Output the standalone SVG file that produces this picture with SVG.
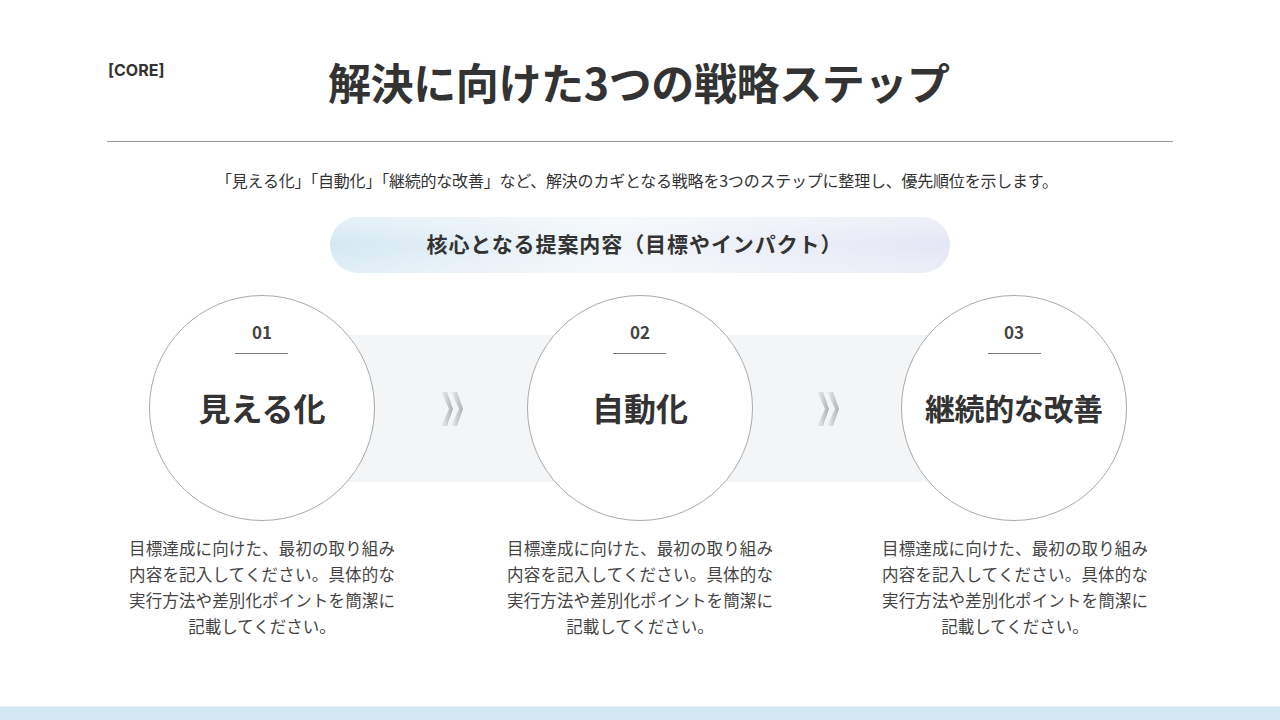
<svg xmlns="http://www.w3.org/2000/svg" width="1280" height="720" viewBox="0 0 1280 720">
<defs>
<style>
text{font-family:"Noto Sans CJK JP","Noto Sans",sans-serif;fill:#333;}
.num{font-size:17px;font-weight:700;text-anchor:middle;fill:#444;}
.ttl{font-size:32px;font-weight:700;text-anchor:middle;}
.desc{font-size:16.5px;text-anchor:middle;fill:#444;}
.circ{fill:#fff;stroke:#aaa;stroke-width:1;}
.ul{stroke:#777;stroke-width:1;}
</style>
<linearGradient id="pill" x1="0" y1="0" x2="1" y2="0">
<stop offset="0" stop-color="#d4e8f2"/>
<stop offset="0.45" stop-color="#f2f6fa"/>
<stop offset="1" stop-color="#e4e6f4"/>
</linearGradient>
<linearGradient id="pillv" x1="0" y1="0" x2="0" y2="1">
<stop offset="0" stop-color="#fff" stop-opacity="0.4"/>
<stop offset="0.5" stop-color="#fff" stop-opacity="0"/>
<stop offset="1" stop-color="#fff" stop-opacity="0.3"/>
</linearGradient>
<linearGradient id="chev" x1="0" y1="0" x2="1" y2="0">
<stop offset="0" stop-color="#f0f2f4"/>
<stop offset="1" stop-color="#a9afb5"/>
</linearGradient>
<g id="chevron">
<path d="M0,0 L8,17 L0,34 L6,34 L12,17 L6,0 Z" fill="url(#chev)"/>
<path d="M10,0 L18,17 L10,34 L16,34 L22,17 L16,0 Z" fill="url(#chev)"/>
</g>
</defs>
<rect width="1280" height="720" fill="#fff"/>
<text x="108" y="76" style="font-size:16px;font-weight:700;font-family:'Inter','Noto Sans',sans-serif">[CORE]</text>
<text x="639" y="100" text-anchor="middle" style="font-size:43px;font-weight:700" textLength="622">解決に向けた3つの戦略ステップ</text>
<line x1="107" y1="141.5" x2="1173" y2="141.5" stroke="#999" stroke-width="1"/>
<text x="637" y="187" text-anchor="middle" style="font-size:16px" textLength="842">「見える化」「自動化」「継続的な改善」など、解決のカギとなる戦略を3つのステップに整理し、優先順位を示します。</text>
<g id="pill-banner">
<rect x="330" y="217" width="620" height="56" rx="28" fill="url(#pill)"/>
<rect x="330" y="217" width="620" height="56" rx="28" fill="url(#pillv)"/>
<text x="634" y="252" text-anchor="middle" style="font-size:21px;font-weight:700" textLength="415">核心となる提案内容（目標やインパクト）</text>
</g>
<g id="band">
<rect x="262" y="335" width="752" height="147" fill="#f3f5f7"/>
</g>
<g id="connectors">
<use href="#chevron" x="441" y="392"/>
<use href="#chevron" x="817" y="392"/>
</g>
<g id="step1">
<circle class="circ" cx="262" cy="408" r="112.5"/>
<text class="num" x="262" y="339">01</text>
<line class="ul" x1="235" y1="353.5" x2="288" y2="353.5"/>
<text class="ttl" x="262" y="421">見える化</text>
<text class="desc" x="262" y="555" textLength="266">目標達成に向けた、最初の取り組み</text>
<text class="desc" x="262" y="581" textLength="266">内容を記入してください。具体的な</text>
<text class="desc" x="262" y="607" textLength="266">実行方法や差別化ポイントを簡潔に</text>
<text class="desc" x="262" y="633">記載してください。</text>
</g>
<g id="step2">
<circle class="circ" cx="640" cy="408" r="112.5"/>
<text class="num" x="640" y="339">02</text>
<line class="ul" x1="613" y1="353.5" x2="666" y2="353.5"/>
<text class="ttl" x="640" y="421">自動化</text>
<text class="desc" x="640" y="555" textLength="266">目標達成に向けた、最初の取り組み</text>
<text class="desc" x="640" y="581" textLength="266">内容を記入してください。具体的な</text>
<text class="desc" x="640" y="607" textLength="266">実行方法や差別化ポイントを簡潔に</text>
<text class="desc" x="640" y="633">記載してください。</text>
</g>
<g id="step3">
<circle class="circ" cx="1014" cy="408" r="112.5"/>
<text class="num" x="1014" y="339">03</text>
<line class="ul" x1="988" y1="353.5" x2="1041" y2="353.5"/>
<text class="ttl" x="1014" y="420" style="font-size:30px" textLength="178">継続的な改善</text>
<text class="desc" x="1015" y="555" textLength="266">目標達成に向けた、最初の取り組み</text>
<text class="desc" x="1015" y="581" textLength="266">内容を記入してください。具体的な</text>
<text class="desc" x="1015" y="607" textLength="266">実行方法や差別化ポイントを簡潔に</text>
<text class="desc" x="1015" y="633">記載してください。</text>
</g>
<g id="footer">
<rect x="0" y="707" width="1280" height="13" fill="#d3e8f2"/>
<line x1="0" y1="706.5" x2="1280" y2="706.5" stroke="#e6ecef" stroke-width="1"/>
</g>
</svg>
